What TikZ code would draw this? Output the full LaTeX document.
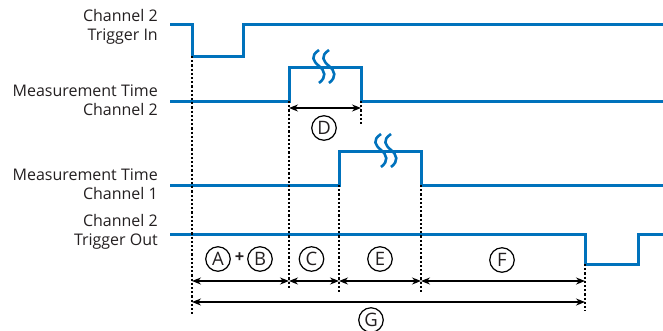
\documentclass[tikz,border=0pt]{standalone}
\usepackage{fontspec}
\setmainfont{Open Sans}
\usetikzlibrary{arrows.meta}
\definecolor{sigblue}{RGB}{0,114,188}
\definecolor{txtgray}{RGB}{35,31,32}
\tikzset{
  sig/.style={draw=sigblue, line width=3pt, line join=miter},
  guide/.style={draw=black, line width=1.4pt, dash pattern=on 2.2pt off 2pt},
  dim/.style={draw=black, line width=1.4pt, {Stealth[length=9pt,width=7pt,inset=3pt]}-{Stealth[length=9pt,width=7pt,inset=3pt]}},
  lbl/.style={align=right, anchor=east, font=\fontsize{16}{19}\selectfont, text=txtgray, inner sep=0pt},
  tag/.style={circle, draw=black, line width=1.2pt, minimum size=24.5pt, inner sep=0pt, font=\fontsize{18.5}{18.5}\selectfont, text=txtgray},
  wav/.style={draw=sigblue, line width=2.6pt}
}
\begin{document}
\begin{tikzpicture}[x=1pt,y=-1pt]
\useasboundingbox (0,0) rectangle (663,330);
% labels
\node[lbl] (l1) at (158,27) {Channel 2\\Trigger In};
\node[lbl] (l2) at (158,100) {Measurement Time\\Channel 2};
\node[lbl] (l3) at (158,184) {Measurement Time\\Channel 1};
\node[lbl] (l4) at (158,232) {Channel 2\\Trigger Out};
% key coordinates
\coordinate (t0) at (192,56);
\coordinate (t1) at (289,101);
\coordinate (t2) at (361,101);
\coordinate (t3) at (339,185);
\coordinate (t4) at (421,185);
\coordinate (t5) at (585,264);
% signals
\path[sig] (170,24) -- (192,24) -- (t0) -- (243,56) -- (243,24) -- (663,24);
\path[sig] (170,101) -- (t1) -- (289,67) -- (361,67) -- (t2) -- (663,101);
\path[sig] (170,185) -- (t3) -- (339,151) -- (421,151) -- (t4) -- (663,185);
\path[sig] (170,234) -- (585,234) -- (t5) -- (638,264) -- (638,234) -- (663,234);
% squiggles
\foreach \xx/\yy in {319/50, 329/50, 381/134, 391/134}{
  \path[wav] (\xx,\yy) .. controls (\xx-9,\yy+6) and (\xx-6,\yy+11) .. (\xx,\yy+16)
     .. controls (\xx+6,\yy+21) and (\xx+8,\yy+27) .. (\xx,\yy+33);
}
% guide lines
\coordinate (g0) at (192,314);
\coordinate (g1) at (289,289);
\coordinate (g2) at (361,126);
\coordinate (g3) at (339,292);
\coordinate (g4) at (421,292);
\coordinate (g5) at (585,311);
\path[guide] (t0) -- (g0);
\path[guide] (t1) -- (g1);
\path[guide] (t2) -- (g2);
\path[guide] (t3) -- (g3);
\path[guide] (t4) -- (g4);
\path[guide] (t5) -- (g5);
% dimension arrows
\path[dim] (t1 |- 0,108) -- (t2 |- 0,108);
\path[dim] (t0 |- 0,281) -- (t1 |- 0,281);
\path[dim] (t1 |- 0,281) -- (t3 |- 0,281);
\path[dim] (t3 |- 0,281) -- (t4 |- 0,281);
\path[dim] (t4 |- 0,281) -- (t5 |- 0,281);
\path[dim] (t0 |- 0,302) -- (t5 |- 0,302);
% tags
\node[tag] (D) at (324,128) {D};
\node[tag] (A) at (218,259) {A};
\node[font=\bfseries\fontsize{16.5}{16.5}\selectfont, text=txtgray, inner sep=0pt] (plus) at (239.5,258) {+};
\node[tag] (B) at (260,259) {B};
\node[tag] (C) at (311.5,259) {C};
\node[tag] (E) at (380,259) {E};
\node[tag] (F) at (502,260) {F};
\node[tag] (G) at (371,320) {G};
\end{tikzpicture}
\end{document}
